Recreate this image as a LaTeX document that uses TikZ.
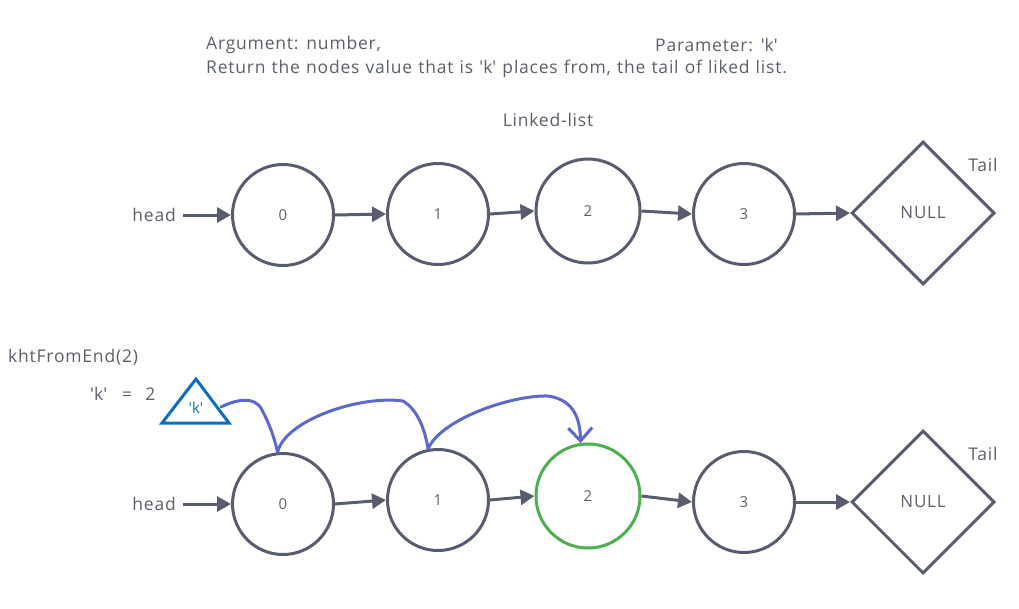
\documentclass[tikz,border=0pt]{standalone}
\usepackage{fontspec}
\setmainfont{Open Sans}[LetterSpace=4.5,WordSpace=1.15]
\usetikzlibrary{arrows.meta,shapes.geometric}
\definecolor{ink}{HTML}{575D6E}
\definecolor{txt}{HTML}{5A5F6B}
\definecolor{grn}{HTML}{4CAF50}
\definecolor{blu}{HTML}{5B68CC}
\definecolor{tri}{HTML}{0A6FC2}
\newcommand{\sq}{\textquotesingle}
\tikzset{
  lnode/.style={circle,draw=ink,line width=3pt,minimum size=101pt,inner sep=0pt,text=txt,font=\fontsize{15}{18}\selectfont},
  gnode/.style={lnode,draw=grn,minimum size=104pt},
  nullnode/.style={diamond,draw=ink,line width=3pt,minimum width=143pt,minimum height=143pt,aspect=1,inner sep=0pt,text=txt,font=\fontsize{17}{20}\selectfont},
  lbl/.style={text=txt,font=\fontsize{17.5}{21}\selectfont,inner sep=0pt},
  link/.style={draw=ink,line width=3pt,-{Triangle[length=14pt,width=15pt]}},
  ptr/.style={draw=blu,line width=3pt,line cap=round},
}
\begin{document}
\begin{tikzpicture}[x=1pt,y=-1pt]
\useasboundingbox (0,0) rectangle (1019,608);
% header
\node[lbl,anchor=west] (arg) at (206,45) {Argument: number,};
\node[lbl,anchor=west] (par) at (655,45) {Parameter: \sq k\sq};
\node[lbl,anchor=west] (ret) at (206,69) {Return the nodes value that is \sq k\sq{} places from, the tail of liked list.};
\node[lbl] (ll) at (548,120) {Linked-list};
% top list
\node[lbl,anchor=east] (h1) at (176,215) {head};
\node[lnode] (a0) at (283,215) {0};
\node[lnode] (a1) at (438,214) {1};
\node[lnode,minimum size=104pt] (a2) at (588,211) {2};
\node[lnode] (a3) at (744,214) {3};
\node[nullnode] (an) at (923,213) {NULL};
\node[lbl] (t1) at (983,165) {Tail};
\draw[link] (h1.east) ++(7,0) coordinate (h1s) -- (a0.west);
\draw[link] (a0.east) -- (a1.west);
\draw[link] (a1.east) -- (a2.west);
\draw[link] (a2.east) -- (a3.west);
\draw[link] (a3.east) -- (an.west);
% bottom
\node[lbl,anchor=west] (fn) at (8,357) {khtFromEnd(2)};
\node[lbl,anchor=west] (keq) at (90,394) {\sq k\sq\hspace{9pt} =\hspace{7pt} 2};
\draw[tri,line width=3pt,line join=miter] (162,423) -- (196,379) -- (229,423) -- cycle;
\node[text=tri,font=\fontsize{15}{18}\selectfont,inner sep=0pt] (kt) at (196,408) {\sq k\sq};
\coordinate (kr) at (221,407);
\node[lbl,anchor=east] (h2) at (176,504) {head};
\node[lnode] (b0) at (283,504) {0};
\node[lnode] (b1) at (438,500) {1};
\node[gnode] (b2) at (588,496) {2};
\node[lnode] (b3) at (744,502) {3};
\node[nullnode] (bn) at (923,502) {NULL};
\node[lbl] (t2) at (983,454) {Tail};
\draw[link] (h2.east) ++(7,0) -- (b0.west);
\draw[link] (b0.east) -- (b1.west);
\draw[link] (b1.east) -- (b2.west);
\draw[link] (b2.east) -- (b3.west);
\draw[link] (b3.east) -- (bn.west);
% pointer curves
\coordinate (p0) at (b0.96);
\coordinate (p1) at (b1.101);
\coordinate (p2) at (b2.98);
\draw[ptr] (kr) .. controls (235,400) and (255,395) .. (262,410) .. controls (270,425) and (275,440) .. (p0);
\draw[ptr] (p0) .. controls (285,420) and (360,395) .. (403,401) .. controls (418,410) and (425,430) .. (p1);
\draw[ptr,-{Straight Barb[length=13pt,width=24pt]}] (p1) .. controls (440,420) and (510,395) .. (548,396) .. controls (575,400) and (580,420) .. (p2);
\end{tikzpicture}
\end{document}
